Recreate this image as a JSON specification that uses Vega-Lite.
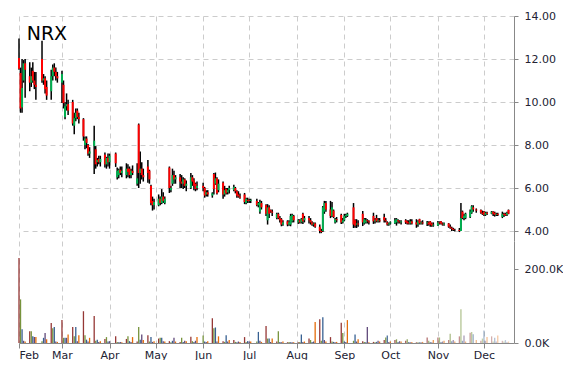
{
"$schema": "https://vega.github.io/schema/vega-lite/v6.json",
"padding": {"top": 10, "left": 18, "right": 0, "bottom": 0},
"background": "white",
"config": {
  "view": {"stroke": null},
  "font": "DejaVu Sans",
  "axis": {"labelFont": "DejaVu Sans", "labelFontSize": 11, "labelColor": "#222233", "domainColor": "#888888", "tickColor": "#888888", "gridColor": "#cccccc", "gridDash": [5, 4], "title": null}
},
"spacing": 0,
"datasets": {"px": [
{"d":"2021-02-01","o":12.05,"h":12.95,"l":11.5,"c":11.55,"v":230},
{"d":"2021-02-02","o":11.35,"h":11.6,"l":9.5,"c":9.7,"v":118},
{"d":"2021-02-03","o":9.75,"h":12.0,"l":9.5,"c":10.65,"v":37},
{"d":"2021-02-04","o":11.0,"h":11.95,"l":10.9,"c":11.8,"v":6},
{"d":"2021-02-05","o":11.8,"h":12.0,"l":10.2,"c":11.5,"v":4},
{"d":"2021-02-08","o":11.2,"h":11.85,"l":10.5,"c":10.9,"v":32},
{"d":"2021-02-09","o":10.9,"h":11.6,"l":10.7,"c":11.2,"v":32},
{"d":"2021-02-10","o":11.45,"h":11.85,"l":10.9,"c":11.0,"v":18},
{"d":"2021-02-11","o":11.0,"h":11.4,"l":10.6,"c":10.8,"v":16},
{"d":"2021-02-12","o":10.8,"h":11.4,"l":10.1,"c":10.7,"v":16},
{"d":"2021-02-16","o":12.0,"h":12.85,"l":10.9,"c":11.0,"v":5},
{"d":"2021-02-17","o":11.0,"h":11.3,"l":10.8,"c":11.1,"v":14},
{"d":"2021-02-18","o":11.1,"h":11.2,"l":10.4,"c":10.6,"v":27},
{"d":"2021-02-19","o":10.7,"h":11.0,"l":10.1,"c":10.3,"v":10},
{"d":"2021-02-22","o":10.5,"h":11.5,"l":10.1,"c":11.2,"v":54},
{"d":"2021-02-23","o":11.2,"h":11.75,"l":11.0,"c":11.6,"v":40},
{"d":"2021-02-24","o":11.6,"h":11.8,"l":11.2,"c":11.4,"v":43},
{"d":"2021-02-25","o":11.4,"h":11.6,"l":11.0,"c":11.2,"v":4},
{"d":"2021-02-26","o":11.2,"h":11.4,"l":10.9,"c":11.1,"v":3},
{"d":"2021-03-01","o":10.9,"h":11.45,"l":9.95,"c":11.3,"v":62},
{"d":"2021-03-02","o":10.8,"h":11.0,"l":9.7,"c":9.95,"v":14},
{"d":"2021-03-03","o":9.3,"h":10.0,"l":9.2,"c":9.8,"v":14},
{"d":"2021-03-04","o":9.8,"h":10.4,"l":9.6,"c":9.9,"v":14},
{"d":"2021-03-05","o":9.9,"h":10.1,"l":9.4,"c":9.6,"v":23},
{"d":"2021-03-08","o":10.0,"h":10.1,"l":8.9,"c":9.0,"v":43},
{"d":"2021-03-09","o":8.9,"h":9.5,"l":8.5,"c":9.25,"v":18},
{"d":"2021-03-10","o":9.25,"h":9.7,"l":9.1,"c":9.5,"v":43},
{"d":"2021-03-11","o":9.6,"h":9.7,"l":9.2,"c":9.3,"v":5},
{"d":"2021-03-12","o":9.3,"h":9.5,"l":9.0,"c":9.2,"v":21},
{"d":"2021-03-15","o":9.2,"h":9.25,"l":8.2,"c":8.4,"v":86},
{"d":"2021-03-16","o":8.0,"h":8.4,"l":7.8,"c":8.3,"v":21},
{"d":"2021-03-17","o":8.3,"h":8.4,"l":7.85,"c":8.1,"v":9},
{"d":"2021-03-18","o":8.0,"h":8.05,"l":7.5,"c":7.6,"v":4},
{"d":"2021-03-19","o":7.6,"h":7.9,"l":7.4,"c":7.7,"v":14},
{"d":"2021-03-22","o":7.95,"h":8.9,"l":6.65,"c":8.2,"v":73},
{"d":"2021-03-23","o":7.8,"h":7.95,"l":6.9,"c":7.1,"v":6},
{"d":"2021-03-24","o":7.2,"h":7.4,"l":7.0,"c":7.3,"v":9},
{"d":"2021-03-25","o":7.35,"h":7.5,"l":7.1,"c":7.2,"v":3},
{"d":"2021-03-26","o":7.2,"h":7.5,"l":7.0,"c":7.35,"v":5},
{"d":"2021-03-29","o":7.55,"h":7.65,"l":6.95,"c":7.1,"v":11},
{"d":"2021-03-30","o":7.1,"h":7.45,"l":6.9,"c":7.4,"v":16},
{"d":"2021-03-31","o":7.4,"h":7.6,"l":7.0,"c":7.2,"v":4},
{"d":"2021-04-01","o":7.2,"h":7.6,"l":6.9,"c":7.5,"v":5},
{"d":"2021-04-05","o":7.6,"h":7.65,"l":6.98,"c":7.15,"v":18},
{"d":"2021-04-06","o":6.5,"h":6.95,"l":6.4,"c":6.8,"v":3},
{"d":"2021-04-07","o":6.6,"h":6.9,"l":6.45,"c":6.85,"v":2},
{"d":"2021-04-08","o":6.85,"h":7.0,"l":6.6,"c":6.7,"v":3},
{"d":"2021-04-09","o":6.7,"h":7.0,"l":6.5,"c":6.8,"v":2},
{"d":"2021-04-12","o":6.6,"h":7.15,"l":6.45,"c":6.9,"v":11},
{"d":"2021-04-13","o":6.9,"h":7.1,"l":6.5,"c":6.75,"v":18},
{"d":"2021-04-14","o":6.9,"h":7.0,"l":6.45,"c":6.6,"v":5},
{"d":"2021-04-15","o":6.6,"h":6.9,"l":6.45,"c":6.8,"v":3},
{"d":"2021-04-16","o":6.8,"h":7.05,"l":6.6,"c":6.7,"v":16},
{"d":"2021-04-19","o":6.2,"h":7.15,"l":6.1,"c":6.45,"v":4},
{"d":"2021-04-20","o":8.95,"h":9.0,"l":6.0,"c":6.7,"v":43},
{"d":"2021-04-21","o":6.7,"h":7.7,"l":6.2,"c":6.9,"v":9},
{"d":"2021-04-22","o":6.9,"h":7.2,"l":6.4,"c":6.6,"v":23},
{"d":"2021-04-23","o":6.6,"h":6.9,"l":6.3,"c":6.5,"v":8},
{"d":"2021-04-26","o":7.0,"h":7.3,"l":6.25,"c":6.7,"v":21},
{"d":"2021-04-27","o":6.8,"h":6.85,"l":6.2,"c":6.4,"v":4},
{"d":"2021-04-28","o":6.1,"h":6.15,"l":5.2,"c":5.3,"v":16},
{"d":"2021-04-29","o":5.4,"h":5.6,"l":4.95,"c":5.2,"v":3},
{"d":"2021-04-30","o":5.2,"h":5.5,"l":5.0,"c":5.35,"v":5},
{"d":"2021-05-03","o":5.2,"h":5.7,"l":5.15,"c":5.5,"v":12},
{"d":"2021-05-04","o":5.5,"h":5.6,"l":5.2,"c":5.3,"v":14},
{"d":"2021-05-05","o":5.3,"h":5.95,"l":5.25,"c":5.6,"v":14},
{"d":"2021-05-06","o":5.6,"h":5.8,"l":5.3,"c":5.4,"v":5},
{"d":"2021-05-07","o":5.3,"h":5.6,"l":5.25,"c":5.5,"v":4},
{"d":"2021-05-10","o":6.95,"h":7.0,"l":5.77,"c":6.0,"v":5},
{"d":"2021-05-11","o":5.9,"h":6.1,"l":5.8,"c":6.0,"v":2},
{"d":"2021-05-12","o":6.2,"h":6.9,"l":6.1,"c":6.6,"v":6},
{"d":"2021-05-13","o":6.6,"h":6.8,"l":6.2,"c":6.4,"v":14},
{"d":"2021-05-14","o":6.4,"h":6.6,"l":6.2,"c":6.5,"v":4},
{"d":"2021-05-17","o":6.5,"h":6.65,"l":6.0,"c":6.3,"v":3},
{"d":"2021-05-18","o":6.3,"h":6.6,"l":6.0,"c":6.2,"v":14},
{"d":"2021-05-19","o":6.2,"h":6.5,"l":5.95,"c":6.4,"v":3},
{"d":"2021-05-20","o":6.4,"h":6.45,"l":6.0,"c":6.1,"v":6},
{"d":"2021-05-21","o":6.1,"h":6.35,"l":5.85,"c":6.2,"v":5},
{"d":"2021-05-24","o":6.0,"h":6.7,"l":5.95,"c":6.5,"v":17},
{"d":"2021-05-25","o":6.5,"h":6.6,"l":6.1,"c":6.3,"v":5},
{"d":"2021-05-26","o":6.35,"h":6.45,"l":5.9,"c":6.1,"v":3},
{"d":"2021-05-27","o":6.2,"h":6.25,"l":5.85,"c":5.95,"v":6},
{"d":"2021-05-28","o":6.0,"h":6.3,"l":5.9,"c":6.1,"v":16},
{"d":"2021-06-01","o":6.1,"h":6.25,"l":5.85,"c":6.0,"v":20},
{"d":"2021-06-02","o":6.0,"h":6.05,"l":5.55,"c":5.65,"v":4},
{"d":"2021-06-03","o":5.7,"h":5.9,"l":5.6,"c":5.8,"v":3},
{"d":"2021-06-04","o":5.8,"h":5.9,"l":5.6,"c":5.7,"v":5},
{"d":"2021-06-07","o":5.65,"h":5.8,"l":5.55,"c":5.75,"v":67},
{"d":"2021-06-08","o":6.65,"h":6.7,"l":5.7,"c":5.95,"v":40},
{"d":"2021-06-09","o":6.2,"h":6.72,"l":6.15,"c":6.45,"v":42},
{"d":"2021-06-10","o":6.45,"h":6.5,"l":5.7,"c":5.75,"v":4},
{"d":"2021-06-11","o":5.9,"h":6.4,"l":5.8,"c":6.2,"v":18},
{"d":"2021-06-14","o":6.25,"h":6.3,"l":5.5,"c":5.7,"v":5},
{"d":"2021-06-15","o":5.7,"h":6.1,"l":5.6,"c":5.9,"v":3},
{"d":"2021-06-16","o":5.95,"h":6.0,"l":5.7,"c":5.75,"v":21},
{"d":"2021-06-17","o":5.8,"h":6.0,"l":5.7,"c":5.9,"v":4},
{"d":"2021-06-18","o":5.9,"h":6.1,"l":5.75,"c":6.0,"v":8},
{"d":"2021-06-21","o":5.9,"h":6.15,"l":5.85,"c":6.05,"v":8},
{"d":"2021-06-22","o":6.0,"h":6.05,"l":5.75,"c":5.85,"v":3},
{"d":"2021-06-23","o":5.85,"h":5.9,"l":5.55,"c":5.65,"v":2},
{"d":"2021-06-24","o":5.7,"h":5.85,"l":5.55,"c":5.6,"v":4},
{"d":"2021-06-25","o":5.6,"h":5.75,"l":5.5,"c":5.55,"v":3},
{"d":"2021-06-28","o":5.7,"h":5.77,"l":5.25,"c":5.35,"v":16},
{"d":"2021-06-29","o":5.3,"h":5.55,"l":5.25,"c":5.5,"v":3},
{"d":"2021-06-30","o":5.45,"h":5.55,"l":5.3,"c":5.4,"v":5},
{"d":"2021-07-01","o":5.45,"h":5.5,"l":5.3,"c":5.4,"v":4},
{"d":"2021-07-02","o":5.4,"h":5.5,"l":5.3,"c":5.45,"v":4},
{"d":"2021-07-06","o":5.4,"h":5.5,"l":5.15,"c":5.2,"v":4},
{"d":"2021-07-07","o":5.2,"h":5.35,"l":5.1,"c":5.3,"v":30},
{"d":"2021-07-08","o":4.9,"h":5.45,"l":4.8,"c":5.35,"v":6},
{"d":"2021-07-09","o":5.3,"h":5.4,"l":5.0,"c":5.1,"v":3},
{"d":"2021-07-12","o":5.2,"h":5.25,"l":4.7,"c":4.8,"v":46},
{"d":"2021-07-13","o":4.5,"h":5.25,"l":4.3,"c":5.1,"v":12},
{"d":"2021-07-14","o":5.1,"h":5.2,"l":4.6,"c":4.8,"v":12},
{"d":"2021-07-15","o":4.97,"h":5.0,"l":4.85,"c":4.9,"v":3},
{"d":"2021-07-16","o":4.9,"h":5.0,"l":4.7,"c":4.85,"v":12},
{"d":"2021-07-19","o":4.6,"h":4.85,"l":4.55,"c":4.8,"v":4},
{"d":"2021-07-20","o":4.8,"h":4.85,"l":4.55,"c":4.6,"v":32},
{"d":"2021-07-21","o":4.6,"h":4.7,"l":4.4,"c":4.5,"v":3},
{"d":"2021-07-22","o":4.55,"h":4.6,"l":4.22,"c":4.3,"v":2},
{"d":"2021-07-23","o":4.3,"h":4.5,"l":4.25,"c":4.4,"v":4},
{"d":"2021-07-26","o":4.45,"h":4.5,"l":4.22,"c":4.3,"v":2},
{"d":"2021-07-27","o":4.3,"h":4.5,"l":4.25,"c":4.4,"v":3},
{"d":"2021-07-28","o":4.3,"h":4.8,"l":4.22,"c":4.7,"v":2},
{"d":"2021-07-29","o":4.45,"h":4.8,"l":4.4,"c":4.75,"v":2},
{"d":"2021-07-30","o":4.7,"h":4.75,"l":4.4,"c":4.5,"v":2},
{"d":"2021-08-02","o":4.4,"h":4.55,"l":4.33,"c":4.5,"v":2},
{"d":"2021-08-03","o":4.5,"h":4.55,"l":4.35,"c":4.4,"v":3},
{"d":"2021-08-04","o":4.4,"h":4.6,"l":4.35,"c":4.55,"v":23},
{"d":"2021-08-05","o":4.8,"h":4.85,"l":4.33,"c":4.45,"v":3},
{"d":"2021-08-06","o":4.5,"h":4.7,"l":4.4,"c":4.6,"v":4},
{"d":"2021-08-09","o":4.6,"h":4.7,"l":4.35,"c":4.5,"v":12},
{"d":"2021-08-10","o":4.5,"h":4.6,"l":4.3,"c":4.4,"v":8},
{"d":"2021-08-11","o":4.4,"h":4.45,"l":4.25,"c":4.3,"v":3},
{"d":"2021-08-12","o":4.3,"h":4.4,"l":4.2,"c":4.35,"v":4},
{"d":"2021-08-13","o":4.35,"h":4.4,"l":4.15,"c":4.2,"v":57},
{"d":"2021-08-16","o":4.2,"h":4.3,"l":3.9,"c":4.0,"v":64},
{"d":"2021-08-17","o":4.0,"h":4.1,"l":3.9,"c":3.95,"v":6},
{"d":"2021-08-18","o":4.0,"h":5.16,"l":3.95,"c":5.1,"v":70},
{"d":"2021-08-19","o":4.9,"h":5.4,"l":4.8,"c":5.3,"v":8},
{"d":"2021-08-20","o":5.3,"h":5.4,"l":4.9,"c":5.0,"v":4},
{"d":"2021-08-23","o":5.0,"h":5.4,"l":4.6,"c":4.7,"v":16},
{"d":"2021-08-24","o":4.7,"h":5.35,"l":4.65,"c":5.1,"v":4},
{"d":"2021-08-25","o":4.95,"h":5.0,"l":4.6,"c":4.65,"v":3},
{"d":"2021-08-26","o":4.4,"h":4.6,"l":4.35,"c":4.55,"v":2},
{"d":"2021-08-27","o":4.55,"h":4.65,"l":4.4,"c":4.5,"v":3},
{"d":"2021-08-30","o":4.75,"h":4.8,"l":4.33,"c":4.4,"v":55},
{"d":"2021-08-31","o":4.4,"h":4.6,"l":4.35,"c":4.5,"v":27},
{"d":"2021-09-01","o":4.5,"h":4.8,"l":4.45,"c":4.7,"v":4},
{"d":"2021-09-02","o":4.7,"h":4.8,"l":4.6,"c":4.75,"v":3},
{"d":"2021-09-03","o":4.7,"h":4.85,"l":4.65,"c":4.8,"v":62},
{"d":"2021-09-07","o":5.1,"h":5.3,"l":4.14,"c":4.3,"v":6},
{"d":"2021-09-08","o":4.5,"h":4.55,"l":4.15,"c":4.25,"v":23},
{"d":"2021-09-09","o":4.3,"h":4.55,"l":4.14,"c":4.35,"v":4},
{"d":"2021-09-10","o":4.35,"h":4.5,"l":4.2,"c":4.3,"v":10},
{"d":"2021-09-13","o":4.8,"h":4.93,"l":4.23,"c":4.4,"v":5},
{"d":"2021-09-14","o":4.35,"h":4.6,"l":4.3,"c":4.55,"v":3},
{"d":"2021-09-15","o":4.4,"h":4.6,"l":4.35,"c":4.5,"v":2},
{"d":"2021-09-16","o":4.5,"h":4.55,"l":4.35,"c":4.45,"v":43},
{"d":"2021-09-17","o":4.45,"h":4.5,"l":4.3,"c":4.4,"v":2},
{"d":"2021-09-20","o":4.7,"h":4.85,"l":4.33,"c":4.45,"v":3},
{"d":"2021-09-21","o":4.45,"h":4.6,"l":4.35,"c":4.5,"v":2},
{"d":"2021-09-22","o":4.6,"h":4.75,"l":4.4,"c":4.45,"v":3},
{"d":"2021-09-23","o":4.45,"h":4.6,"l":4.4,"c":4.5,"v":6},
{"d":"2021-09-24","o":4.5,"h":4.6,"l":4.4,"c":4.45,"v":4},
{"d":"2021-09-27","o":4.65,"h":4.8,"l":4.4,"c":4.5,"v":8},
{"d":"2021-09-28","o":4.5,"h":4.6,"l":4.4,"c":4.45,"v":15},
{"d":"2021-09-29","o":4.4,"h":4.45,"l":4.25,"c":4.3,"v":20},
{"d":"2021-09-30","o":4.3,"h":4.4,"l":4.25,"c":4.35,"v":3},
{"d":"2021-10-01","o":4.35,"h":4.45,"l":4.3,"c":4.4,"v":4},
{"d":"2021-10-04","o":4.35,"h":4.6,"l":4.33,"c":4.5,"v":8},
{"d":"2021-10-05","o":4.4,"h":4.6,"l":4.25,"c":4.55,"v":10},
{"d":"2021-10-06","o":4.5,"h":4.55,"l":4.35,"c":4.45,"v":3},
{"d":"2021-10-07","o":4.45,"h":4.5,"l":4.35,"c":4.4,"v":5},
{"d":"2021-10-08","o":4.4,"h":4.5,"l":4.3,"c":4.45,"v":4},
{"d":"2021-10-11","o":4.5,"h":4.55,"l":4.33,"c":4.4,"v":6},
{"d":"2021-10-12","o":4.45,"h":4.5,"l":4.3,"c":4.35,"v":10},
{"d":"2021-10-13","o":4.4,"h":4.5,"l":4.3,"c":4.35,"v":3},
{"d":"2021-10-14","o":4.35,"h":4.55,"l":4.3,"c":4.45,"v":2},
{"d":"2021-10-15","o":4.45,"h":4.55,"l":4.3,"c":4.35,"v":3},
{"d":"2021-10-18","o":4.4,"h":4.55,"l":4.15,"c":4.3,"v":2},
{"d":"2021-10-19","o":4.3,"h":4.5,"l":4.2,"c":4.45,"v":2},
{"d":"2021-10-20","o":4.55,"h":4.57,"l":4.3,"c":4.35,"v":2},
{"d":"2021-10-21","o":4.35,"h":4.45,"l":4.3,"c":4.4,"v":2},
{"d":"2021-10-22","o":4.4,"h":4.5,"l":4.3,"c":4.35,"v":3},
{"d":"2021-10-25","o":4.35,"h":4.47,"l":4.23,"c":4.4,"v":15},
{"d":"2021-10-26","o":4.4,"h":4.45,"l":4.25,"c":4.3,"v":6},
{"d":"2021-10-27","o":4.45,"h":4.47,"l":4.2,"c":4.3,"v":3},
{"d":"2021-10-28","o":4.35,"h":4.4,"l":4.2,"c":4.25,"v":2},
{"d":"2021-10-29","o":4.25,"h":4.4,"l":4.2,"c":4.3,"v":8},
{"d":"2021-11-01","o":4.25,"h":4.47,"l":4.23,"c":4.4,"v":15},
{"d":"2021-11-02","o":4.4,"h":4.45,"l":4.3,"c":4.35,"v":15},
{"d":"2021-11-03","o":4.45,"h":4.47,"l":4.3,"c":4.35,"v":3},
{"d":"2021-11-04","o":4.35,"h":4.4,"l":4.25,"c":4.3,"v":4},
{"d":"2021-11-05","o":4.3,"h":4.4,"l":4.25,"c":4.35,"v":6},
{"d":"2021-11-08","o":4.35,"h":4.37,"l":4.15,"c":4.2,"v":8},
{"d":"2021-11-09","o":4.2,"h":4.3,"l":4.1,"c":4.15,"v":25},
{"d":"2021-11-10","o":4.15,"h":4.2,"l":4.0,"c":4.1,"v":5},
{"d":"2021-11-11","o":4.1,"h":4.15,"l":4.0,"c":4.05,"v":8},
{"d":"2021-11-12","o":4.05,"h":4.1,"l":3.98,"c":4.05,"v":4},
{"d":"2021-11-15","o":4.05,"h":4.14,"l":3.95,"c":4.0,"v":18},
{"d":"2021-11-16","o":4.0,"h":5.3,"l":4.0,"c":4.6,"v":91},
{"d":"2021-11-17","o":4.9,"h":4.95,"l":4.55,"c":4.6,"v":6},
{"d":"2021-11-18","o":4.6,"h":4.8,"l":4.5,"c":4.7,"v":20},
{"d":"2021-11-19","o":4.6,"h":4.85,"l":4.55,"c":4.8,"v":4},
{"d":"2021-11-22","o":4.65,"h":5.0,"l":4.6,"c":4.9,"v":28},
{"d":"2021-11-23","o":4.85,"h":5.2,"l":4.8,"c":5.15,"v":30},
{"d":"2021-11-24","o":5.1,"h":5.2,"l":4.9,"c":5.0,"v":24},
{"d":"2021-11-26","o":5.0,"h":5.05,"l":4.85,"c":4.95,"v":8},
{"d":"2021-11-29","o":4.98,"h":5.0,"l":4.8,"c":4.85,"v":6},
{"d":"2021-11-30","o":4.85,"h":4.95,"l":4.75,"c":4.8,"v":12},
{"d":"2021-12-01","o":4.9,"h":4.93,"l":4.7,"c":4.75,"v":34},
{"d":"2021-12-02","o":4.75,"h":4.9,"l":4.7,"c":4.85,"v":6},
{"d":"2021-12-03","o":4.85,"h":4.9,"l":4.75,"c":4.8,"v":16},
{"d":"2021-12-06","o":4.8,"h":4.93,"l":4.78,"c":4.9,"v":18},
{"d":"2021-12-07","o":4.9,"h":4.92,"l":4.7,"c":4.8,"v":4},
{"d":"2021-12-08","o":4.85,"h":4.9,"l":4.67,"c":4.75,"v":14},
{"d":"2021-12-09","o":4.75,"h":4.85,"l":4.7,"c":4.8,"v":4},
{"d":"2021-12-10","o":4.8,"h":4.85,"l":4.7,"c":4.75,"v":20},
{"d":"2021-12-13","o":4.65,"h":4.9,"l":4.6,"c":4.8,"v":6},
{"d":"2021-12-14","o":4.8,"h":4.85,"l":4.65,"c":4.75,"v":4},
{"d":"2021-12-15","o":4.8,"h":4.85,"l":4.7,"c":4.72,"v":8},
{"d":"2021-12-16","o":4.75,"h":4.9,"l":4.7,"c":4.85,"v":3},
{"d":"2021-12-17","o":4.98,"h":5.0,"l":4.78,"c":4.8,"v":4}
]},
"vconcat": [
  {
    "width": 495,
    "height": 225,
    "data": {"name": "px"},
    "layer": [
      {
        "mark": {"type": "rule", "color": "#000000", "strokeWidth": 1.5},
        "encoding": {
          "x": {"field": "d", "type": "temporal", "scale": {"type": "utc", "domain": ["2021-02-01", "2021-12-20T14:00:00Z"]}, "axis": {"grid": true, "labels": false, "ticks": false, "domain": false, "tickCount": {"interval": "month", "step": 1}}},
          "y": {"field": "l", "type": "quantitative", "scale": {"domain": [3.535, 14], "nice": false, "zero": false}, "axis": {"orient": "right", "values": [4, 6, 8, 10, 12, 14], "format": ".2f", "grid": true, "tickSize": 4, "labelPadding": 6}},
          "y2": {"field": "h"}
        }
      },
      {
        "mark": {"type": "rule", "strokeWidth": 2},
        "encoding": {
          "x": {"field": "d", "type": "temporal"},
          "y": {"field": "o", "type": "quantitative"},
          "y2": {"field": "c"},
          "color": {"condition": {"test": "datum.c >= datum.o", "value": "#00B050"}, "value": "#FF0000"}
        }
      },
      {
        "data": {"values": [{"t": "NRX"}]},
        "mark": {"type": "text", "align": "left", "baseline": "alphabetic", "fontSize": 19, "color": "#000000", "font": "DejaVu Sans"},
        "encoding": {
          "x": {"datum": {"year": 2021, "month": 2, "date": 6, "utc": true}, "type": "temporal"},
          "y": {"datum": 12.87, "type": "quantitative"},
          "text": {"field": "t"}
        }
      }
    ]
  },
  {
    "width": 495,
    "height": 102,
    "data": {"name": "px"},
    "mark": {"type": "rule", "strokeWidth": 1.3},
    "encoding": {
      "x": {"field": "d", "type": "temporal", "scale": {"type": "utc", "domain": ["2021-02-01", "2021-12-20T14:00:00Z"]}, "axis": {"grid": true, "format": "%b", "tickCount": {"interval": "month", "step": 1}, "tickSize": 5, "labelPadding": 1}},
      "y": {"field": "v", "type": "quantitative", "scale": {"domain": [0, 276], "nice": false}, "axis": {"orient": "right", "values": [0, 200], "labelExpr": "format(datum.value, '.1f') + 'K'", "grid": false, "tickSize": 4, "labelPadding": 6}},
      "y2": {"datum": 0},
      "color": {"field": "d", "timeUnit": "utcday", "type": "nominal", "scale": {"range": ["#953735", "#77933C", "#376092", "#60497A", "#E46C0A"]}, "legend": null},
      "opacity": {"field": "d", "type": "temporal", "scale": {"domain": ["2021-09-15", "2021-12-20"], "range": [1, 0.3], "clamp": true}, "legend": null}
    }
  }
],
"resolve": {"scale": {"y": "independent", "x": "independent", "color": "independent", "opacity": "independent"}}
}
